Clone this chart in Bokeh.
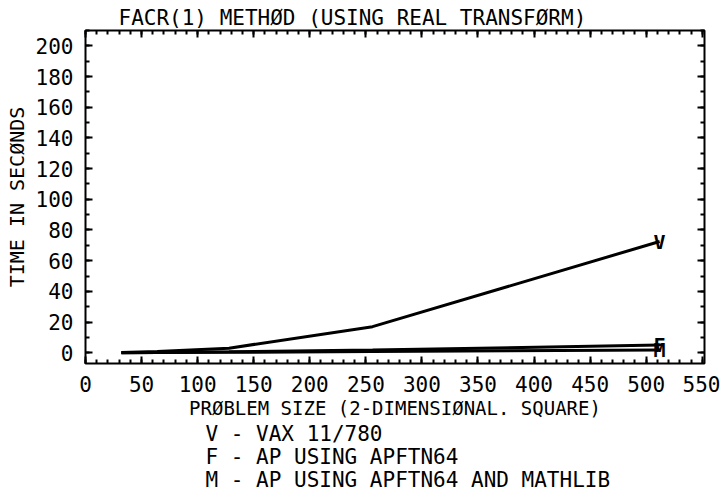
from bokeh.plotting import figure
from bokeh.models import (Range1d, LinearAxis, SingleIntervalTicker, Title,
                          CustomJSTickFormatter, ColumnDataSource)
from bokeh.core.properties import value
from bokeh.embed import file_html
from bokeh.resources import INLINE

# ---- data ----
problem_size = [32, 64, 128, 256, 512]
vax_time = [0.2, 0.8, 3.0, 17.0, 72.5]          # V - VAX 11/780
ap_apftn64_time = [0.05, 0.2, 0.6, 1.8, 5.0]    # F - AP using APFTN64
ap_mathlib_time = [0.03, 0.1, 0.3, 0.8, 1.8]    # M - AP using APFTN64 and MATHLIB
series_symbols = ["V", "F", "M"]
legend_lines = ["V - VAX 11/780",
                "F - AP USING APFTN64",
                "M - AP USING APFTN64 AND MATHLIB"]
title_text = "FACR(1) METHØD (USING REAL TRANSFØRM)"
x_label = "PRØBLEM SIZE (2-DIMENSIØNAL. SQUARE)"
y_label = "TIME IN SECØNDS"

FONT = "DejaVu Sans Mono"

p = figure(width=720, height=497, output_backend="svg", toolbar_location=None,
           x_range=Range1d(0, 552), y_range=Range1d(-7, 210),
           min_border_left=85, min_border_right=16, min_border_top=30,
           min_border_bottom=134, x_axis_label=x_label, y_axis_label=y_label)
p.grid.visible = False
p.outline_line_color = "black"
p.outline_line_width = 2
p.background_fill_color = "white"
p.border_fill_color = "white"

def style_axis(ax, interval, nminor, labels=True):
    ax.ticker = SingleIntervalTicker(interval=interval, num_minor_ticks=nminor)
    ax.axis_line_color = None
    ax.major_tick_in = 7
    ax.major_tick_out = 0
    ax.minor_tick_in = 4
    ax.minor_tick_out = 0
    ax.major_tick_line_color = "black"
    ax.minor_tick_line_color = "black"
    ax.major_tick_line_width = 2
    ax.minor_tick_line_width = 2
    ax.major_label_text_font = FONT
    ax.major_label_text_font_size = "21px"
    ax.major_label_text_color = "black"
    ax.axis_label_text_font = FONT
    ax.axis_label_text_font_size = "20px"
    ax.axis_label_text_font_style = "normal"
    ax.axis_label_text_color = "black"
    if not labels:
        ax.formatter = CustomJSTickFormatter(code="return ''")
        ax.major_label_standoff = 0

style_axis(p.xaxis[0], 50, 5)
style_axis(p.yaxis[0], 20, 2)
p.xaxis[0].major_label_standoff = 12
p.xaxis[0].axis_label_standoff = 2
p.xaxis[0].axis_label_text_font_size = "19px"
p.yaxis[0].major_label_standoff = 12
p.yaxis[0].axis_label_standoff = 4

top_ax = LinearAxis()
style_axis(top_ax, 50, 5, labels=False)
p.add_layout(top_ax, "above")
right_ax = LinearAxis()
style_axis(right_ax, 20, 2, labels=False)
p.add_layout(right_ax, "right")

series = [vax_time, ap_apftn64_time, ap_mathlib_time]
for sym, ys in zip(series_symbols, series):
    p.line(problem_size, ys, line_color="black", line_width=3)
    src = ColumnDataSource(dict(x=[problem_size[-1]], y=[ys[-1]], t=[sym]))
    p.text(x="x", y="y", text="t", source=src, text_font=value(FONT),
           text_font_size="20px", text_font_style="bold", text_color="black",
           text_align="center", text_baseline="middle")

# main title
p.title.text = title_text
p.title.align = "left"
p.title.offset = 33
p.title.text_font = FONT
p.title.text_font_size = "21px"
p.title.text_font_style = "normal"
p.title.text_color = "black"
p.title.standoff = 2

# legend text lines under the x-axis label
for line in legend_lines:
    t = Title(text=line, align="left", offset=120, text_font=FONT,
              text_font_size="21px", text_font_style="normal",
              text_color="black", standoff=-3, text_line_height=1.0)
    p.add_layout(t, "below")

open("out.html", "w").write(file_html(p, INLINE))
